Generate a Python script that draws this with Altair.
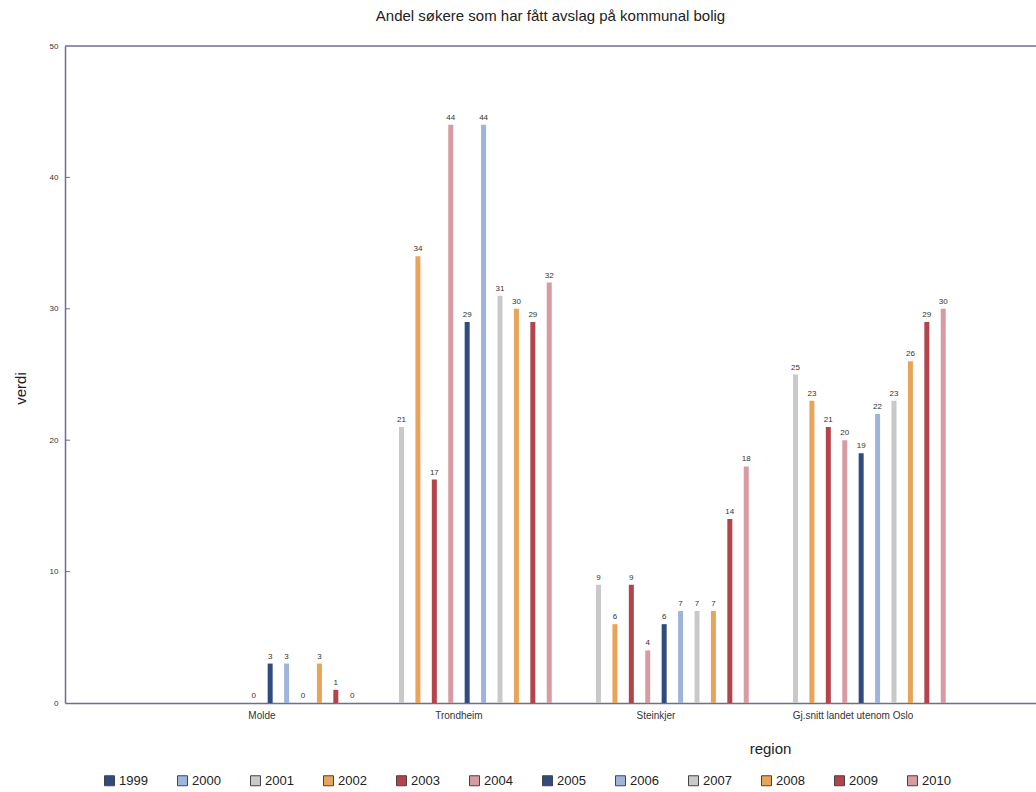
import altair as alt
import pandas as pd

years = [str(y) for y in range(1999, 2011)]
regions = ["Molde", "Trondheim", "Steinkjer", "Gj.snitt landet utenom Oslo"]
molde = [None, None, None, None, None, 0, 3, 3, 0, 3, 1, 0]
trondheim = [None, None, 21, 34, 17, 44, 29, 44, 31, 30, 29, 32]
steinkjer = [None, None, 9, 6, 9, 4, 6, 7, 7, 7, 14, 18]
gjsnitt = [None, None, 25, 23, 21, 20, 19, 22, 23, 26, 29, 30]
palette = ["#2f4b7f", "#9fb4dd", "#c9c9c9", "#e9a45c", "#b5434c", "#d99ba2"]
y_ticks = [10, 20, 30, 40]

rows = []
for reg, vals in zip(regions, [molde, trondheim, steinkjer, gjsnitt]):
    for yr, v in zip(years, vals):
        if v is not None:
            rows.append({"region": reg, "year": yr, "verdi": v})
df = pd.DataFrame(rows)

axis_col = "#6e6e90"
font = "Liberation Sans"

x_enc = alt.X("region:N", sort=regions,
              scale=alt.Scale(domain=regions, paddingInner=0, paddingOuter=0.4645, align=0.538),
              axis=alt.Axis(title="region", labelAngle=0, ticks=False, labelPadding=7,
                            labelFontSize=10, labelColor="#333", domainColor=axis_col, domainWidth=1.5,
                            titleFontSize=15, titleFontWeight="normal", titleColor="#222",
                            titleX=705, titleY=45, titleBaseline="middle"))
xo_enc = alt.XOffset("year:N", scale=alt.Scale(domain=years, paddingInner=0, paddingOuter=0))
y_enc = alt.Y("verdi:Q", scale=alt.Scale(domain=[0, 50], nice=False),
              axis=alt.Axis(title="verdi", values=[0, 10, 20, 30, 40, 50], grid=False, ticks=False,
                            labelPadding=7, labelFontSize=8, labelColor="#333",
                            domainColor=axis_col, domainWidth=1.5,
                            titleFontSize=15, titleFontWeight="normal", titleColor="#222",
                            titleX=-37, titleY=342))

base = alt.Chart(df)
bars = base.mark_bar(width=5).encode(
    x=x_enc, xOffset=xo_enc, y=y_enc,
    color=alt.Color("year:N", scale=alt.Scale(domain=years, range=palette * 2),
                    legend=alt.Legend(title=None, orient="none", direction="horizontal", columns=12,
                                      legendX=38, legendY=728, symbolType="square", symbolSize=100,
                                      symbolStrokeColor="#444", symbolStrokeWidth=1,
                                      labelFontSize=13, labelColor="#222", labelOffset=3,
                                      columnPadding=27)),
)
labels = base.mark_text(dy=-7, fontSize=8, color="#333", font=font).encode(
    x=alt.X("region:N", sort=regions), xOffset="year:N", y="verdi:Q", text="verdi:Q"
)
top_line = alt.Chart(pd.DataFrame({"v": [50]})).mark_rule(color=axis_col, strokeWidth=1.5).encode(
    y=alt.Y("v:Q")
)
ticks = alt.Chart(pd.DataFrame({"t": y_ticks})).mark_rule(color=axis_col, strokeWidth=1).encode(
    y=alt.Y("t:Q"), x=alt.value(0), x2=alt.value(5)
)

chart = alt.layer(bars, labels, top_line, ticks).properties(
    width=971, height=657,
    title=alt.TitleParams("Andel søkere som har fått avslag på kommunal bolig", fontSize=15,
                          fontWeight="normal", color="#222", offset=18, font=font),
    autosize=alt.AutoSizeParams(type="none"),
    padding={"left": 65, "top": 46, "right": 0, "bottom": 89},
).configure(font=font).configure_view(stroke=None)

chart.save("out.html", embed_options={"renderer": "svg", "actions": False})
